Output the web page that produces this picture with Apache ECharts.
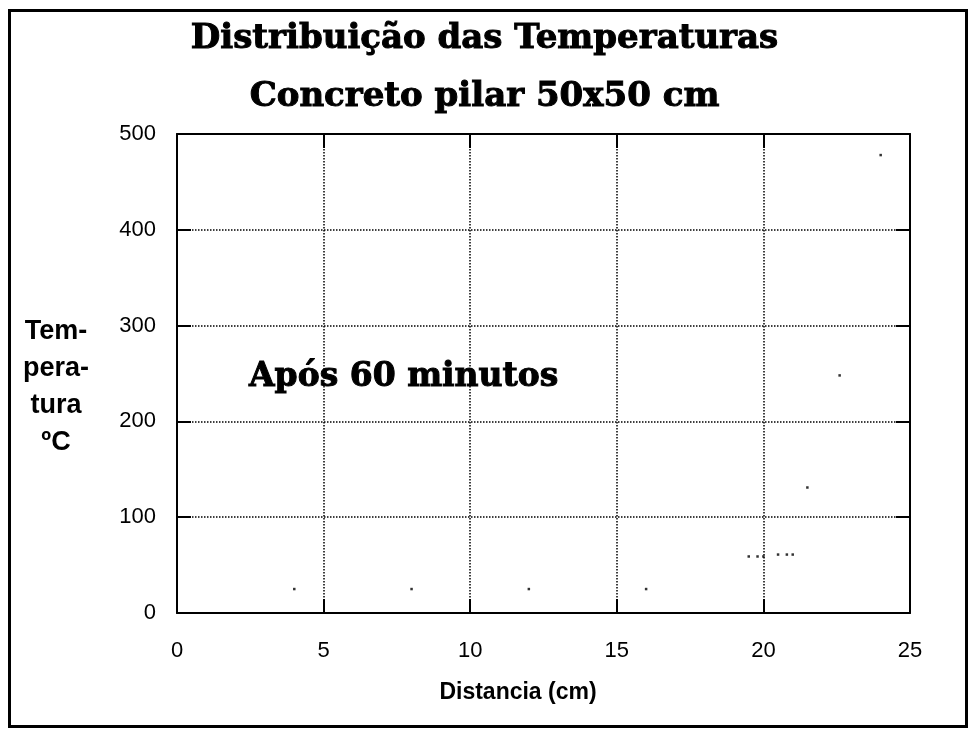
<!DOCTYPE html>
<html>
<head>
<meta charset="utf-8">
<script src="https://cdn.jsdelivr.net/npm/echarts@6/dist/echarts.min.js"></script>
<style>
  html, body { margin: 0; padding: 0; background: #fff; }
  #chart { width: 969px; height: 731px; }
</style>
</head>
<body>
<div id="chart"></div>
<script>
// Data
const distancia = [4.0, 8.0, 12.0, 16.0, 19.5, 19.8, 20.0, 20.5, 20.8, 21.0, 21.5, 22.6, 24.0];
const temperatura = [25, 25, 25, 25, 59, 59, 59, 61, 61, 61, 131, 248, 478];
const xTicks = [0, 5, 10, 15, 20, 25];
const yTicks = [0, 100, 200, 300, 400, 500];
const titleLines = ['Distribuição das Temperaturas', 'Concreto pilar 50x50 cm'];
const annotation = 'Após 60 minutos';
const xName = 'Distancia (cm)';
const yName = 'Tem-\npera-\ntura\nºC';

const points = distancia.map((d, i) => [d, temperatura[i]]);

const heavySerif = {
  fontFamily: 'DejaVu Serif',
  fontWeight: 'bold',
  color: '#000',
  textBorderColor: '#000',
  textBorderWidth: 1
};

const gridLine = { show: true, lineStyle: { color: '#000', width: 1.5, type: [1.5, 1.5] } };
const axisLine = { show: true, onZero: false, lineStyle: { color: '#000', width: 2 } };
const axisTick = { show: true, inside: true, length: 14, lineStyle: { color: '#000', width: 2 } };
const tickLabel = { fontFamily: 'Liberation Sans, Arial, sans-serif', fontSize: 22, color: '#000' };

const chart = echarts.init(document.getElementById('chart'), null, { renderer: 'canvas' });
chart.setOption({
  backgroundColor: '#fff',
  animation: false,
  title: [
    { text: titleLines[0], left: 'center', top: 17, textStyle: Object.assign({ fontSize: 34 }, heavySerif) },
    { text: titleLines[1], left: 'center', top: 75, textStyle: Object.assign({ fontSize: 34 }, heavySerif) }
  ],
  grid: { left: 177, right: 59, top: 134, bottom: 118, containLabel: false },
  xAxis: [
    {
      type: 'value', min: xTicks[0], max: xTicks[xTicks.length - 1], interval: 5,
      axisLine: axisLine, axisTick: axisTick, splitLine: gridLine,
      axisLabel: Object.assign({ margin: 27 }, tickLabel)
    },
    {
      type: 'value', position: 'top', min: xTicks[0], max: xTicks[xTicks.length - 1], interval: 5,
      axisLine: axisLine, axisTick: axisTick, splitLine: { show: false }, axisLabel: { show: false }
    }
  ],
  yAxis: [
    {
      type: 'value', min: yTicks[0], max: yTicks[yTicks.length - 1], interval: 100,
      axisLine: axisLine, axisTick: axisTick, splitLine: gridLine,
      axisLabel: Object.assign({ margin: 21 }, tickLabel)
    },
    {
      type: 'value', position: 'right', min: yTicks[0], max: yTicks[yTicks.length - 1], interval: 100,
      axisLine: axisLine, axisTick: axisTick, splitLine: { show: false }, axisLabel: { show: false }
    }
  ],
  series: [
    {
      type: 'scatter', xAxisIndex: 0, yAxisIndex: 0, data: points,
      symbol: 'rect', symbolSize: 2.5, itemStyle: { color: '#000' }, silent: true
    }
  ],
  graphic: [
    {
      type: 'rect', left: 7, top: 8, silent: true,
      shape: { width: 957, height: 716 },
      style: { fill: 'none', stroke: '#000', lineWidth: 3 }
    },
    {
      type: 'text', x: 249, y: 377, silent: true,
      style: { text: annotation, fontSize: 33, fill: '#000', stroke: '#000', lineWidth: 1, fontFamily: 'DejaVu Serif', fontWeight: 'bold', verticalAlign: 'middle' }
    },
    {
      type: 'text', x: 56, y: 387, silent: true,
      style: { text: yName, fontSize: 27, lineHeight: 37, fontWeight: 'bold', fontFamily: 'Liberation Sans, Arial, sans-serif', fill: '#000', align: 'center', verticalAlign: 'middle' }
    },
    {
      type: 'text', x: 518, y: 693, silent: true,
      style: { text: xName, fontSize: 23, fontWeight: 'bold', fontFamily: 'Liberation Sans, Arial, sans-serif', fill: '#000', align: 'center', verticalAlign: 'middle' }
    }
  ]
});
</script>
</body>
</html>
